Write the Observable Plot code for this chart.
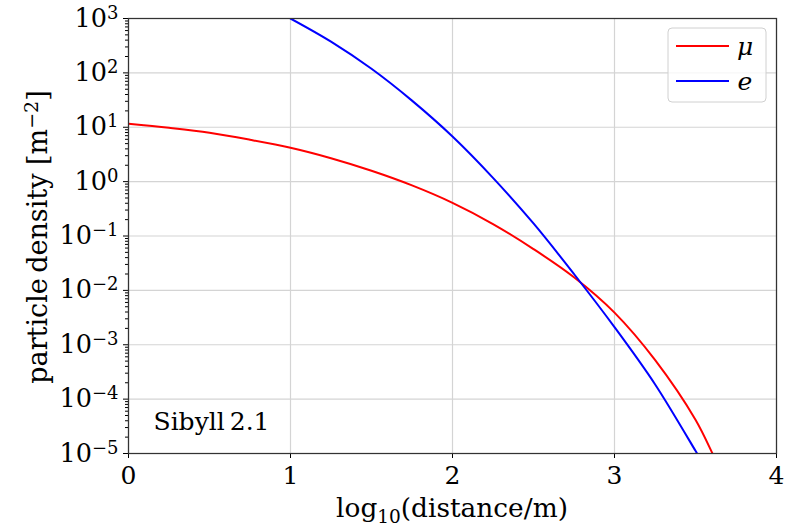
<!DOCTYPE html>
<html>
<head>
<meta charset="utf-8">
<script src="https://cdn.jsdelivr.net/npm/d3@7"></script>
<script src="https://cdn.jsdelivr.net/npm/@observablehq/plot@0.6"></script>
<style>
  html, body { margin: 0; padding: 0; background: #fff; }
  svg { display: block; }
</style>
</head>
<body>
<script>
// log10(distance/m) sample positions and particle densities [m^-2]
const muX = [0, 0.25, 0.5, 0.75, 1.0, 1.25, 1.5, 1.75, 2.0, 2.25, 2.5, 2.75, 3.0, 3.25, 3.5, 3.6, 3.61];
const muDensity = [11.6, 9.77, 7.93, 5.89, 4.19, 2.69, 1.58, 0.851, 0.407, 0.166, 0.0575, 0.0174, 3.89e-3, 5.25e-4, 4.17e-5, 1.07e-5, 9.3e-6];

const eX = [1.0, 1.25, 1.5, 1.75, 2.0, 2.25, 2.5, 2.75, 3.0, 3.25, 3.5, 3.51, 3.52];
const eDensity = [1000, 375.8, 118.9, 30.9, 6.76, 1.175, 0.170, 0.0200, 2.11e-3, 1.88e-4, 1.12e-5, 1.0e-5, 8.9e-6];

const xTicks = [0, 1, 2, 3, 4];
const yExponents = [-5, -4, -3, -2, -1, 0, 1, 2, 3];
const minorMultipliers = [2, 3, 4, 5, 6, 7, 8, 9];

const seriesNames = ["\u03bc", "e"];
const seriesColors = ["#ff0000", "#0000ff"];
const annotation = "Sibyll\u20092.1";

const yMajor = yExponents.map(e => Math.pow(10, e));
const yMinor = [];
for (const e of yExponents.slice(0, -1)) for (const m of minorMultipliers) yMinor.push(m * Math.pow(10, e));

const muData = muX.map((x, i) => ({x, y: muDensity[i], s: seriesNames[0]}));
const eData = eX.map((x, i) => ({x, y: eDensity[i], s: seriesNames[1]}));

const svg = Plot.plot({
  width: 785,
  height: 528,
  marginLeft: 128,
  marginRight: 9,
  marginTop: 18,
  marginBottom: 75,
  style: {fontFamily: "'DejaVu Serif', serif", fontSize: "25px", color: "#000", background: "#fff"},
  x: {domain: [0, 4], label: null},
  y: {type: "log", domain: [1e-5, 1e3], label: null},
  marks: [
    Plot.gridX(xTicks, {stroke: "#d4d4d4", strokeOpacity: 1, strokeWidth: 1.2}),
    Plot.gridY(yMajor, {stroke: "#d4d4d4", strokeOpacity: 1, strokeWidth: 1.2}),
    Plot.axisX(xTicks, {tickSize: 5, tickPadding: 8, tickFormat: d => String(d), label: null}),
    Plot.axisY(yMajor, {tickSize: 5, tickPadding: 5, tickFormat: d => "10^" + Math.round(Math.log10(d)), label: null}),
    Plot.axisY(yMinor, {tickSize: 3, tickFormat: () => "", label: null}),
    Plot.line(muData, {x: "x", y: "y", stroke: seriesColors[0], strokeWidth: 2, curve: "catmull-rom", clip: true}),
    Plot.line(eData, {x: "x", y: "y", stroke: seriesColors[1], strokeWidth: 2, curve: "catmull-rom", clip: true}),
    Plot.text([annotation], {frameAnchor: "bottom-left", dx: 25, dy: -24, textAnchor: "start", fontSize: 25}),
    Plot.frame({stroke: "#333", strokeWidth: 1.25})
  ]
});
document.body.append(svg);

const sel = d3.select(svg);
const minus = "\u2212";

// superscript exponents on y tick labels
sel.selectAll('g[aria-label="y-axis tick label"] text').each(function () {
  const t = this.textContent;
  if (!t.includes("^")) return;
  const [base, ex] = t.split("^");
  const s = d3.select(this);
  s.text(null);
  s.append("tspan").attr("font-size", "25.5px").text(base);
  s.append("tspan").attr("font-size", "18px").attr("dy", "-8").text(ex.replace("-", minus));
});

// axis labels
const xl = sel.append("text")
  .attr("x", 452).attr("y", 517)
  .attr("text-anchor", "middle")
  .attr("font-family", "'DejaVu Serif', serif")
  .attr("font-size", "26.4px")
  .attr("fill", "#000");
xl.append("tspan").text("log");
xl.append("tspan").attr("font-size", "18.5px").attr("dy", "6").text("10");
xl.append("tspan").attr("dy", "-6").text("(distance/m)");

const yl = sel.append("text")
  .attr("transform", "translate(47,237) rotate(-90)")
  .attr("text-anchor", "middle")
  .attr("font-family", "'DejaVu Serif', serif")
  .attr("font-size", "27px")
  .attr("fill", "#000");
yl.append("tspan").text("particle\u2009density [m");
yl.append("tspan").attr("font-size", "19px").attr("dy", "-9").text(minus + "2");
yl.append("tspan").attr("dy", "9").text("]");

// legend
const lg = sel.append("g");
lg.append("rect").attr("x", 668).attr("y", 28).attr("width", 98).attr("height", 74)
  .attr("rx", 4).attr("fill", "#fff").attr("fill-opacity", 0.8).attr("stroke", "#d0d0d0").attr("stroke-width", 1);
seriesNames.forEach((name, i) => {
  const cy = 46 + i * 35;
  lg.append("line").attr("x1", 676).attr("x2", 729).attr("y1", cy).attr("y2", cy)
    .attr("stroke", seriesColors[i]).attr("stroke-width", 2);
  lg.append("text").attr("x", 745).attr("y", cy + 9)
    .attr("font-family", "'DejaVu Serif', serif").attr("font-style", "italic")
    .attr("font-size", "25px").attr("fill", "#000").text(name);
});
</script>
</body>
</html>
